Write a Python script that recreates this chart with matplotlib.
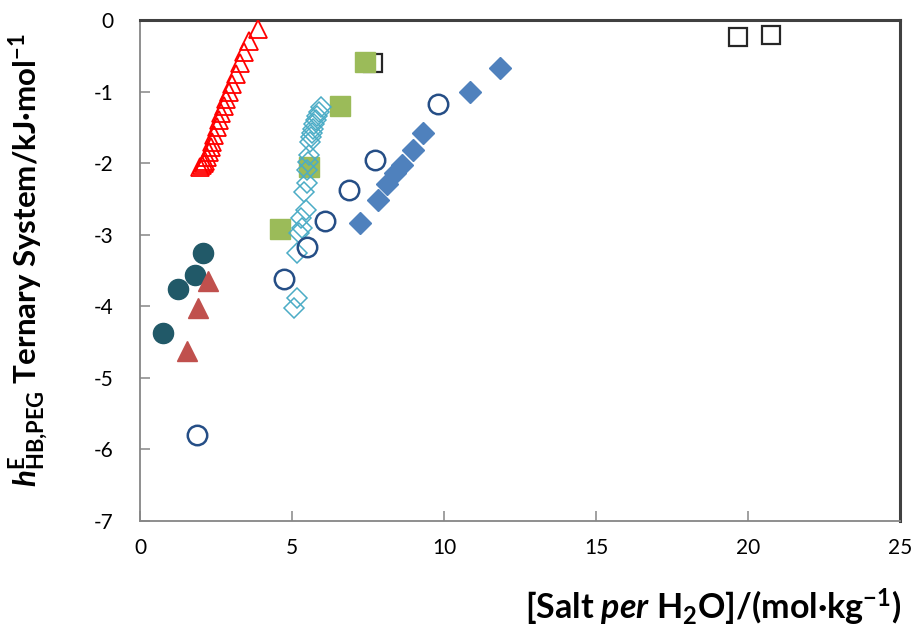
import numpy as np
import matplotlib
matplotlib.use('Agg')
import matplotlib.pyplot as plt

plt.rcParams['font.family'] = ['Lato', 'DejaVu Sans']
plt.rcParams['axes.unicode_minus'] = False
plt.rcParams['mathtext.fontset'] = 'custom'
plt.rcParams['mathtext.rm'] = 'Lato:bold'
plt.rcParams['mathtext.bf'] = 'Lato:bold'
plt.rcParams['mathtext.it'] = 'Lato:italic'
plt.rcParams['mathtext.bfit'] = 'Lato:bold:italic'

# black open squares
sq_x = [7.65, 19.67, 20.75]
sq_y = [-0.60, -0.24, -0.21]

# green filled squares
green_x = [4.62, 5.57, 6.58, 7.40]
green_y = [-2.92, -2.06, -1.20, -0.59]

# cyan open diamonds
cyan_x = [5.95, 5.88, 5.82, 5.78, 5.74, 5.70, 5.66, 5.62, 5.58,
          5.55, 5.52, 5.48, 5.50, 5.40, 5.45, 5.30, 5.34, 5.24, 5.17, 5.17, 5.08]
cyan_y = [-1.22, -1.28, -1.34, -1.40, -1.46, -1.52, -1.58, -1.64, -1.70,
          -1.88, -1.98, -2.10, -2.28, -2.41, -2.66, -2.77, -2.90, -2.98, -3.26, -3.88, -4.02]

# red open triangles
red_x = [3.88, 3.57, 3.42, 3.30, 3.16, 3.02, 2.92, 2.84, 2.76, 2.68, 2.60,
         2.52, 2.45, 2.38, 2.32, 2.26, 2.20, 2.14, 2.09, 2.04, 1.98]
red_y = [-0.12, -0.30, -0.45, -0.60, -0.75, -0.90, -1.00, -1.10, -1.20, -1.30, -1.40,
         -1.50, -1.60, -1.70, -1.78, -1.85, -1.92, -1.97, -2.00, -2.03, -2.05]

# navy open circles
navy_x = [1.88, 4.75, 5.50, 6.08, 6.87, 7.73, 9.80]
navy_y = [-5.80, -3.62, -3.17, -2.81, -2.38, -1.96, -1.18]

# blue filled diamonds
blue_x = [7.23, 7.83, 8.14, 8.38, 8.62, 8.98, 9.32, 10.86, 11.84]
blue_y = [-2.83, -2.51, -2.29, -2.14, -2.03, -1.82, -1.58, -1.00, -0.67]

# dark teal filled circles
teal_x = [0.76, 1.25, 1.82, 2.07]
teal_y = [-4.37, -3.76, -3.56, -3.26]

# brick red filled triangles
brick_x = [1.54, 1.91, 2.24]
brick_y = [-4.63, -4.02, -3.65]

fig = plt.figure(figsize=(9.19, 6.33), dpi=100)
ax = fig.add_axes([140/919, 1-521/633, 760/919, 501/633])

ax.plot(sq_x, sq_y, 's', ms=12.5, mfc='white', mec='#262626', mew=1.6, zorder=3)
ax.plot(green_x, green_y, 's', ms=14.5, color='#9BBB59', zorder=4)
ax.plot(cyan_x, cyan_y, 'D', ms=10, mfc='none', mec='#4BACC6', mew=1.1, zorder=5)
ax.plot(red_x, red_y, '^', ms=12.5, mfc='none', mec='#FF0000', mew=1.3, zorder=5)
ax.plot(navy_x, navy_y, 'o', ms=14, mfc='none', mec='#254E86', mew=1.8, zorder=6)
ax.plot(blue_x, blue_y, 'D', ms=11.5, color='#4F81BD', zorder=5)
ax.plot(teal_x, teal_y, 'o', ms=14.5, color='#215968', zorder=5)
ax.plot(brick_x, brick_y, '^', ms=15, color='#C0504D', zorder=6)

ax.set_xlim(0, 25)
ax.set_ylim(-7, 0)
ax.set_xticks(np.arange(0, 26, 5))
ax.set_yticks(np.arange(-7, 1, 1))
ax.tick_params(direction='in', length=7, width=1.1, color='#868686',
               labelsize=15)
ax.tick_params(axis='x', pad=12)
ax.tick_params(axis='y', pad=19)

for s in ['left', 'bottom']:
    ax.spines[s].set_color('#868686')
    ax.spines[s].set_linewidth(1.3)
for s in ['top', 'right']:
    ax.spines[s].set_color('#404040')
    ax.spines[s].set_linewidth(2.2)

ax.set_xlabel(r'[Salt $\mathbfit{per}$ H$_{\mathbf{2}}$O]/(mol·kg$^{\mathbf{-1}}$)',
              fontsize=24.5, fontweight='bold')
ax.xaxis.set_label_coords(0.754, -0.172)
ax.xaxis.label.set_va('center')
ax.set_ylabel(r'$\mathbfit{h}^{\mathbf{E}}_{\mathbf{HB{,}PEG}}$ Ternary System/kJ·mol$^{\mathbf{-1}}$',
              fontsize=22.5, fontweight='bold')
ax.yaxis.set_label_coords(-0.147, 0.52)
ax.yaxis.label.set_va('center')

fig.savefig('out.png', dpi=100)
